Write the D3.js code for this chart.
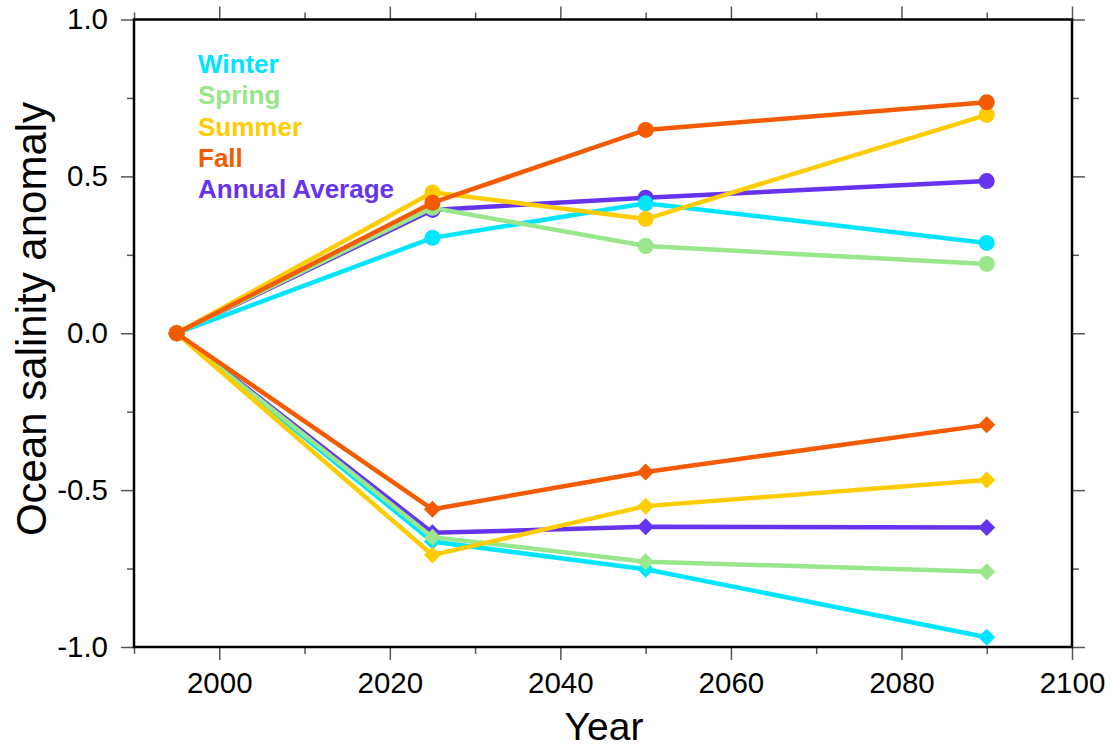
<!DOCTYPE html>
<html>
<head>
<meta charset="utf-8">
<script src="https://cdn.jsdelivr.net/npm/d3@7"></script>
<style>
  body { margin: 0; background: #fff; }
  svg { display: block; font-family: "Liberation Sans", Arial, Helvetica, sans-serif; }
</style>
</head>
<body>
<svg width="1113" height="753"></svg>
<script>
// sample years
var years = [1995, 2025, 2050, 2090];

// upper branch (circles)
var winterHigh = [0, 0.304, 0.414, 0.288];
var springHigh = [0, 0.400, 0.278, 0.221];
var summerHigh = [0, 0.449, 0.364, 0.696];
var fallHigh   = [0, 0.416, 0.648, 0.736];
var annualHigh = [0, 0.393, 0.432, 0.485];

// lower branch (diamonds)
var winterLow = [0, -0.664, -0.752, -0.969];
var springLow = [0, -0.650, -0.728, -0.760];
var summerLow = [0, -0.707, -0.551, -0.468];
var fallLow   = [0, -0.561, -0.442, -0.292];
var annualLow = [0, -0.636, -0.617, -0.619];

var legendNames = ["Winter", "Spring", "Summer", "Fall", "Annual Average"];
var legendColors = ["#00e5ff", "#99e68c", "#ffcc00", "#f45b00", "#6633ee"];

var xMajor = [2000, 2020, 2040, 2060, 2080, 2100];
var xMinor = [1990, 2010, 2030, 2050, 2070, 2090];
var yMajor = [-1.0, -0.5, 0.0, 0.5, 1.0];
var yMinor = [-0.75, -0.25, 0.25, 0.75];

// draw order: annual first, then seasons
var series = [
  {name: "Annual Average", color: legendColors[4], high: annualHigh, low: annualLow},
  {name: "Winter", color: legendColors[0], high: winterHigh, low: winterLow},
  {name: "Spring", color: legendColors[1], high: springHigh, low: springLow},
  {name: "Summer", color: legendColors[2], high: summerHigh, low: summerLow},
  {name: "Fall", color: legendColors[3], high: fallHigh, low: fallLow}
];

var svg = d3.select("svg"),
    plotLeft = 134, plotRight = 1072, plotTop = 19.5, plotBottom = 647;

var x = d3.scaleLinear().domain([1990, 2100]).range([plotLeft, plotRight]);
var y = d3.scaleLinear().domain([-1, 1]).range([plotBottom, plotTop]);

var tickColor = "#555";

function styleAxis(g) {
  g.select(".domain").remove();
  g.selectAll(".tick line").attr("stroke", tickColor).attr("stroke-width", 1.5);
  g.selectAll("text").attr("fill", "#000").style("font-size", "29.5px");
}

// bottom axis
svg.append("g").attr("transform", "translate(0," + plotBottom + ")")
    .call(d3.axisBottom(x).tickValues(xMinor).tickSize(7).tickFormat(""))
    .call(styleAxis);
svg.append("g").attr("transform", "translate(0," + plotBottom + ")")
    .call(d3.axisBottom(x).tickValues(xMajor).tickSize(13).tickPadding(12).tickFormat(d3.format("d")))
    .call(styleAxis);

// top axis
svg.append("g").attr("transform", "translate(0," + plotTop + ")")
    .call(d3.axisTop(x).tickValues(xMinor).tickSize(7).tickFormat(""))
    .call(styleAxis);
svg.append("g").attr("transform", "translate(0," + plotTop + ")")
    .call(d3.axisTop(x).tickValues(xMajor).tickSize(13).tickFormat(""))
    .call(styleAxis);

// left axis
svg.append("g").attr("transform", "translate(" + plotLeft + ",0)")
    .call(d3.axisLeft(y).tickValues(yMinor).tickSize(7).tickFormat(""))
    .call(styleAxis);
svg.append("g").attr("transform", "translate(" + plotLeft + ",0)")
    .call(d3.axisLeft(y).tickValues(yMajor).tickSize(13).tickPadding(13)
      .tickFormat(function(d) { return d.toFixed(1); }))
    .call(styleAxis);

// right axis
svg.append("g").attr("transform", "translate(" + plotRight + ",0)")
    .call(d3.axisRight(y).tickValues(yMinor).tickSize(7).tickFormat(""))
    .call(styleAxis);
svg.append("g").attr("transform", "translate(" + plotRight + ",0)")
    .call(d3.axisRight(y).tickValues(yMajor).tickSize(13).tickFormat(""))
    .call(styleAxis);

// frame
svg.append("rect")
    .attr("x", plotLeft).attr("y", plotTop)
    .attr("width", plotRight - plotLeft).attr("height", plotBottom - plotTop)
    .attr("fill", "none").attr("stroke", "#000").attr("stroke-width", 2.5);

var line = d3.line()
    .x(function(d) { return x(d[0]); })
    .y(function(d) { return y(d[1]); });

var diamond = "M0,-8.5L8.5,0L0,8.5L-8.5,0Z";

var plot = svg.append("g");

series.forEach(function(s) {
  var hi = years.map(function(yr, i) { return [yr, s.high[i]]; });
  var lo = years.map(function(yr, i) { return [yr, s.low[i]]; });

  plot.append("path").datum(lo)
      .attr("d", line).attr("fill", "none")
      .attr("stroke", s.color).attr("stroke-width", 4.5);
  plot.append("path").datum(hi)
      .attr("d", line).attr("fill", "none")
      .attr("stroke", s.color).attr("stroke-width", 4.5);

  plot.selectAll(null).data(lo).enter().append("path")
      .attr("d", diamond)
      .attr("transform", function(d) { return "translate(" + x(d[0]) + "," + y(d[1]) + ")"; })
      .attr("fill", s.color);
  plot.selectAll(null).data(hi).enter().append("circle")
      .attr("cx", function(d) { return x(d[0]); })
      .attr("cy", function(d) { return y(d[1]); })
      .attr("r", 8)
      .attr("fill", s.color);
});

// legend
svg.append("g").selectAll("text")
    .data(legendNames)
    .enter().append("text")
      .attr("x", 198)
      .attr("y", function(d, i) { return 73 + i * 31.3; })
      .attr("fill", function(d, i) { return legendColors[i]; })
      .style("font-size", "26px")
      .style("font-weight", "bold")
      .text(function(d) { return d; });

// axis titles
svg.append("text")
    .attr("x", (plotLeft + plotRight) / 2 + 1)
    .attr("y", 740)
    .attr("text-anchor", "middle")
    .style("font-size", "39px")
    .text("Year");

svg.append("text")
    .attr("transform", "translate(46," + 319 + ") rotate(-90)")
    .attr("text-anchor", "middle")
    .style("font-size", "42px")
    .text("Ocean salinity anomaly");
</script>
</body>
</html>
